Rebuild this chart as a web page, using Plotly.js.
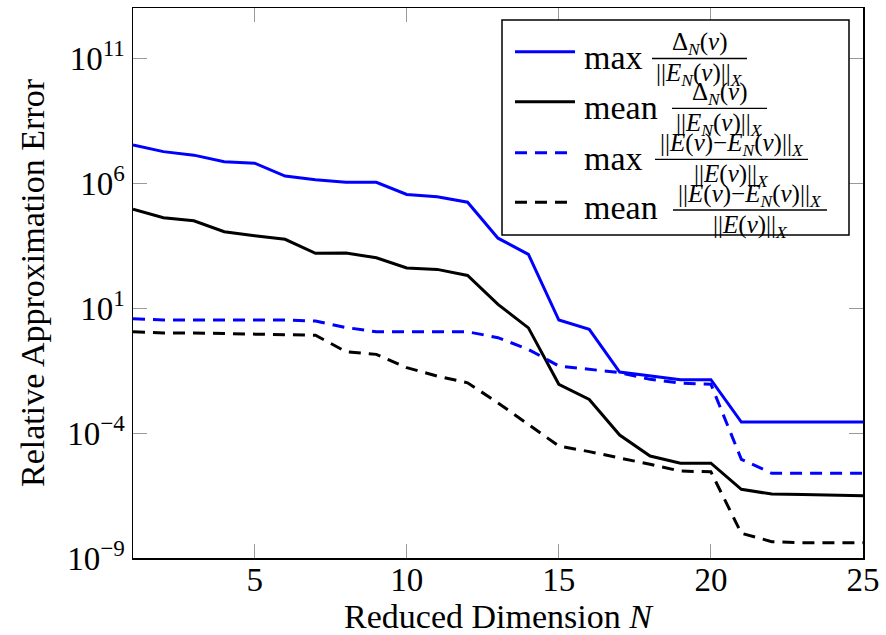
<!DOCTYPE html>
<html>
<head>
<meta charset="utf-8">
<script src="https://cdn.plot.ly/plotly-3.0.1.min.js"></script>
<style>
  html, body { margin: 0; padding: 0; background: #fff; }
  #chart { width: 886px; height: 635px; }
</style>
</head>
<body>
<div id="chart"></div>
<script>
// Reduced dimension N
const dims = [1, 2, 3, 4, 5, 6, 7, 8, 9, 10, 11, 12, 13, 14, 15, 16, 17, 18, 19, 20, 21, 22, 23, 24, 25];

// max of Delta_N / ||E_N||_X (error estimator)
const maxEstimator = [3.3e7, 1.8e7, 1.3e7, 7.1e6, 6.2e6, 1.9e6, 1.35e6, 1.07e6, 1.07e6, 3.5e5,
  2.8e5, 1.7e5, 6.2e3, 1.4e3, 3.3, 1.4, 2.75e-2, 1.9e-2, 1.35e-2, 1.35e-2,
  2.75e-4, 2.75e-4, 2.75e-4, 2.75e-4, 2.75e-4];

// mean of Delta_N / ||E_N||_X
const meanEstimator = [8.9e4, 4.1e4, 3.1e4, 1.12e4, 7.8e3, 5.6e3, 1.55e3, 1.6e3, 1.02e3, 4.0e2,
  3.5e2, 2.0e2, 14, 1.6, 8.9e-3, 2.2e-3, 8.3e-5, 1.2e-5, 6.2e-6, 6.2e-6,
  5.6e-7, 3.6e-7, 3.5e-7, 3.3e-7, 3.1e-7];

// max of ||E - E_N||_X / ||E||_X (true error)
const maxError = [3.7, 3.3, 3.3, 3.3, 3.3, 3.3, 3.0, 1.66, 1.12, 1.12,
  1.12, 1.12, 0.65, 0.22, 4.8e-2, 3.5e-2, 2.6e-2, 1.4e-2, 9.8e-3, 8.9e-3,
  8.9e-6, 2.45e-6, 2.45e-6, 2.45e-6, 2.45e-6];

// mean of ||E - E_N||_X / ||E||_X
const meanError = [1.12, 1.0, 1.0, 0.95, 0.93, 0.85, 0.81, 0.18, 0.14, 4.1e-2,
  1.9e-2, 1.02e-2, 1.6e-3, 2.2e-4, 3.0e-5, 1.8e-5, 1.02e-5, 5.6e-6, 3.0e-6, 2.8e-6,
  9.8e-9, 4.5e-9, 4.1e-9, 4.1e-9, 4.1e-9];

// Axis ticks
const xTickVals = [5, 10, 15, 20, 25];
const yTickVals = [1e-9, 1e-4, 1e1, 1e6, 1e11];
const yTickText = ['10<sup>−9</sup>', '10<sup>−4</sup>', '10<sup>1</sup>', '10<sup>6</sup>', '10<sup>11</sup>'];

// Legend labels (prefix, numerator, denominator)
const legendPrefix = ['max', 'mean', 'max', 'mean'];
const legendNum = [
  'Δ<sub><i>N</i></sub>(<i>ν</i>)',
  'Δ<sub><i>N</i></sub>(<i>ν</i>)',
  '||<i>E</i>(<i>ν</i>)−<i>E</i><sub><i>N</i></sub>(<i>ν</i>)||<sub><i>X</i></sub>',
  '||<i>E</i>(<i>ν</i>)−<i>E</i><sub><i>N</i></sub>(<i>ν</i>)||<sub><i>X</i></sub>'
];
const legendDen = [
  '||<i>E</i><sub><i>N</i></sub>(<i>ν</i>)||<sub><i>X</i></sub>',
  '||<i>E</i><sub><i>N</i></sub>(<i>ν</i>)||<sub><i>X</i></sub>',
  '||<i>E</i>(<i>ν</i>)||<sub><i>X</i></sub>',
  '||<i>E</i>(<i>ν</i>)||<sub><i>X</i></sub>'
];

const BLUE = '#0000ff';
const BLACK = '#000000';
const DASH = '12px,8px';
const seriesStyle = [
  { color: BLUE, dash: 'solid' },
  { color: BLACK, dash: 'solid' },
  { color: BLUE, dash: DASH },
  { color: BLACK, dash: DASH }
];
const seriesData = [maxEstimator, meanEstimator, maxError, meanError];

const traces = seriesData.map((ys, i) => ({
  x: dims,
  y: ys,
  type: 'scatter',
  mode: 'lines',
  line: { color: seriesStyle[i].color, width: 3, dash: seriesStyle[i].dash },
  showlegend: false,
  hoverinfo: 'skip'
}));

// Plot area geometry in pixels
const W = 886, H = 635;
const M = { l: 133, r: 23, t: 8, b: 77 };
const PW = W - M.l - M.r, PH = H - M.t - M.b;
const px = x => (x - M.l) / PW;
const py = y => 1 - (y - M.t) / PH;

const SERIF = 'Liberation Serif';

// Hand-drawn legend: box, line samples, labels with stacked fractions
const shapes = [{
  type: 'rect', xref: 'paper', yref: 'paper', layer: 'above',
  x0: px(502), x1: px(849), y0: py(20), y1: py(235),
  fillcolor: '#ffffff', line: { color: BLACK, width: 1.5 }
}];
const annotations = [];
const rowLine = [51.7, 101.7, 152.7, 202.3];
const rowBar = [58.5, 108.3, 159.3, 210];
const barX = [[652, 747], [672, 767], [655, 808], [673, 827]];

for (let i = 0; i < 4; i++) {
  shapes.push({
    type: 'line', xref: 'paper', yref: 'paper', layer: 'above',
    x0: px(515), x1: px(575), y0: py(rowLine[i]), y1: py(rowLine[i]),
    line: { color: seriesStyle[i].color, width: 3, dash: seriesStyle[i].dash }
  });
  shapes.push({
    type: 'line', xref: 'paper', yref: 'paper', layer: 'above',
    x0: px(barX[i][0]), x1: px(barX[i][1]), y0: py(rowBar[i]), y1: py(rowBar[i]),
    line: { color: BLACK, width: 1.3 }
  });
  annotations.push({
    xref: 'paper', yref: 'paper', x: px(582), y: py(rowLine[i] + 5.5),
    xanchor: 'left', yanchor: 'middle', showarrow: false,
    text: legendPrefix[i], font: { family: SERIF, size: 34, color: BLACK }
  });
  const cx = px((barX[i][0] + barX[i][1]) / 2);
  annotations.push({
    xref: 'paper', yref: 'paper', x: cx, y: py(rowBar[i] - 15),
    xanchor: 'center', yanchor: 'middle', showarrow: false,
    text: legendNum[i], font: { family: SERIF, size: 25, color: BLACK }
  });
  annotations.push({
    xref: 'paper', yref: 'paper', x: cx, y: py(rowBar[i] + 16),
    xanchor: 'center', yanchor: 'middle', showarrow: false,
    text: legendDen[i], font: { family: SERIF, size: 25, color: BLACK }
  });
}

const axisCommon = {
  showgrid: false, zeroline: false,
  showline: true, linecolor: BLACK, linewidth: 1.5, mirror: 'ticks',
  ticks: 'inside', ticklen: 14, tickwidth: 1, tickcolor: '#9a9a9a',
  tickfont: { family: SERIF, size: 33, color: BLACK }
};

const layout = {
  width: W, height: H,
  margin: M,
  paper_bgcolor: '#ffffff', plot_bgcolor: '#ffffff',
  font: { family: SERIF, color: BLACK },
  xaxis: Object.assign({}, axisCommon, {
    range: [1, 25],
    tickvals: xTickVals,
    ticklabelstandoff: -8,
    title: { text: 'Reduced Dimension <i>N</i>', font: { family: SERIF, size: 34, color: BLACK }, standoff: 0 }
  }),
  yaxis: Object.assign({}, axisCommon, {
    type: 'log',
    range: [-9, 13],
    tickvals: yTickVals,
    ticktext: yTickText,
    title: { text: 'Relative Approximation Error', font: { family: SERIF, size: 34, color: BLACK }, standoff: 12 }
  }),
  shapes: shapes,
  annotations: annotations
};

Plotly.newPlot('chart', traces, layout, { staticPlot: true, displayModeBar: false });
</script>
</body>
</html>
